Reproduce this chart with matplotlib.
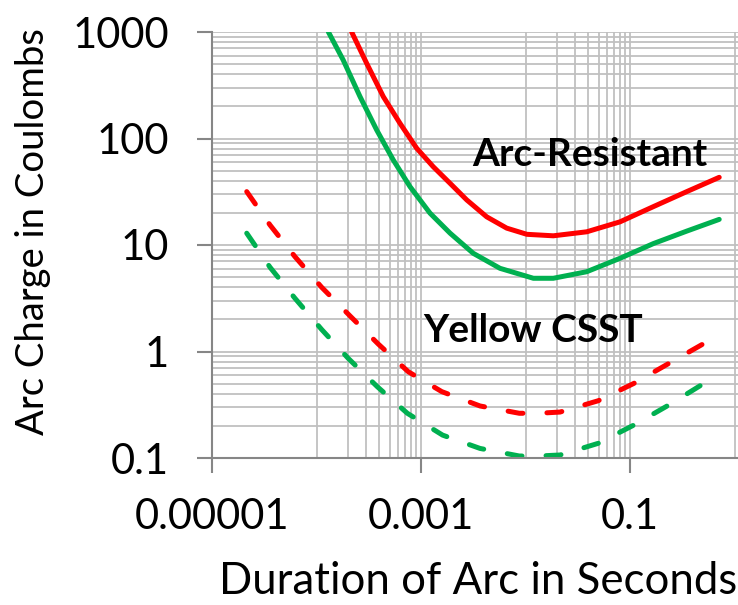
import numpy as np
import matplotlib
matplotlib.use("Agg")
import matplotlib.pyplot as plt
from matplotlib.ticker import FixedLocator, FixedFormatter, NullFormatter

plt.rcParams['font.family'] = ['Lato', 'DejaVu Sans']

# ---- donnees ----
# Arc-Resistant (traits pleins)
ar_red_x = [2.17e-4, 3.02e-4, 4.36e-4, 6.29e-4, 9.1e-4, 1.31e-3, 1.90e-3, 2.74e-3, 4.25e-3,
            6.61e-3, 0.0103, 0.01845, 0.0385, 0.0802, 0.167, 0.349, 0.714]
ar_red_y = [1000, 508, 247, 139, 80.9, 54.3, 37.9, 26.5, 18.4,
            14.4, 12.6, 12.2, 13.3, 16.5, 22.9, 31.7, 43.2]
ar_green_x = [1.30e-4, 1.80e-4, 2.61e-4, 3.77e-4, 5.43e-4, 7.85e-4, 1.22e-3, 1.90e-3, 3.16e-3,
              5.7e-3, 0.0119, 0.01845, 0.0385, 0.0802, 0.167, 0.349, 0.714]
ar_green_y = [1000, 546, 247, 120, 62.8, 35.3, 19.9, 12.9, 8.36,
              6.04, 4.87, 4.87, 5.61, 7.5, 10.3, 13.5, 17.4]

# Yellow CSST (pointilles)
csst_red_x = [2.15e-5, 3.59e-5, 6.22e-5, 1.12e-4, 2.10e-4, 3.90e-4, 7.55e-4, 1.58e-3, 3.67e-3,
              8.73e-3, 0.01325, 0.0214, 0.0497, 0.109, 0.236, 0.51, 0.726]
csst_red_y = [31.7, 15.4, 7.77, 4.01, 2.15, 1.175, 0.646, 0.42, 0.308,
              0.263, 0.263, 0.270, 0.345, 0.502, 0.774, 1.19, 1.50]
csst_green_x = [2.15e-5, 3.59e-5, 6.22e-5, 1.12e-4, 2.01e-4, 3.82e-4, 7.4e-4, 1.61e-3, 3.67e-3,
                8.73e-3, 0.01325, 0.0214, 0.0497, 0.109, 0.236, 0.51, 0.726]
csst_green_y = [12.9, 6.18, 3.16, 1.61, 0.863, 0.467, 0.263, 0.164, 0.123,
                0.1044, 0.1044, 0.1067, 0.1374, 0.204, 0.315, 0.502, 0.624]

x_ticks = [1e-5, 1e-3, 1e-1]
x_labels = ["0.00001", "0.001", "0.1"]
y_ticks = [0.1, 1, 10, 100, 1000]
y_labels = ["0.1", "1", "10", "100", "1000"]

RED = "#FF0000"
GREEN = "#00B050"
GRID = "#C0C0C0"
AXE = "#868686"

fig = plt.figure(figsize=(7.38, 6.05), dpi=100)
ax = fig.add_axes([212/738, 1-458/605, 526/738, 426/605])

ax.set_xscale('log')
ax.set_yscale('log')
ax.set_xlim(1e-5, 10**(-5 + 526/104.5))
ax.set_ylim(0.1, 1000)

# grille facon Excel (log base 100 sur x)
x_minor = [k*t for t in x_ticks for k in range(10, 100, 10)]
ax.xaxis.set_major_locator(FixedLocator(x_ticks))
ax.xaxis.set_major_formatter(FixedFormatter(x_labels))
ax.xaxis.set_minor_locator(FixedLocator(x_minor))
ax.xaxis.set_minor_formatter(NullFormatter())
ax.yaxis.set_major_locator(FixedLocator(y_ticks))
ax.yaxis.set_major_formatter(FixedFormatter(y_labels))
y_minor = [k*t for t in y_ticks[:-1] for k in range(2, 10)]
ax.yaxis.set_minor_locator(FixedLocator(y_minor))
ax.yaxis.set_minor_formatter(NullFormatter())

ax.grid(which='both', color=GRID, linewidth=1.3)
ax.set_axisbelow(True)

for s in ['top', 'right']:
    ax.spines[s].set_visible(False)
for s in ['left', 'bottom']:
    ax.spines[s].set_color(AXE)
    ax.spines[s].set_linewidth(1.5)

ax.tick_params(which='major', direction='out', length=11, width=1.5, color=AXE,
               labelsize=30)
ax.tick_params(axis='y', pad=20)
ax.tick_params(axis='x', pad=18)
ax.tick_params(which='minor', length=0)

lw = 3.6
ax.plot(ar_red_x, ar_red_y, color=RED, lw=lw, solid_capstyle='round')
ax.plot(ar_green_x, ar_green_y, color=GREEN, lw=lw, solid_capstyle='round')
ax.plot(csst_red_x, csst_red_y, color=RED, lw=lw, dashes=(3.0, 4.8), dash_capstyle='round')
ax.plot(csst_green_x, csst_green_y, color=GREEN, lw=lw, dashes=(3.0, 4.8), dash_capstyle='round')

ax.text(3.08e-3, 70, "Arc-Resistant", fontsize=28, fontweight='bold', ha='left', va='center')
ax.text(1.04e-3, 1.59, "Yellow CSST", fontsize=28, fontweight='bold', ha='left', va='center')

fig.text(478/738, 1-581/605, "Duration of Arc in Seconds", fontsize=31.5, ha='center', va='center')
fig.text(33/738, 1-232/605, "Arc Charge in Coulombs", fontsize=27.5, ha='center', va='center', rotation=90)

fig.savefig("out.png", dpi=100)
